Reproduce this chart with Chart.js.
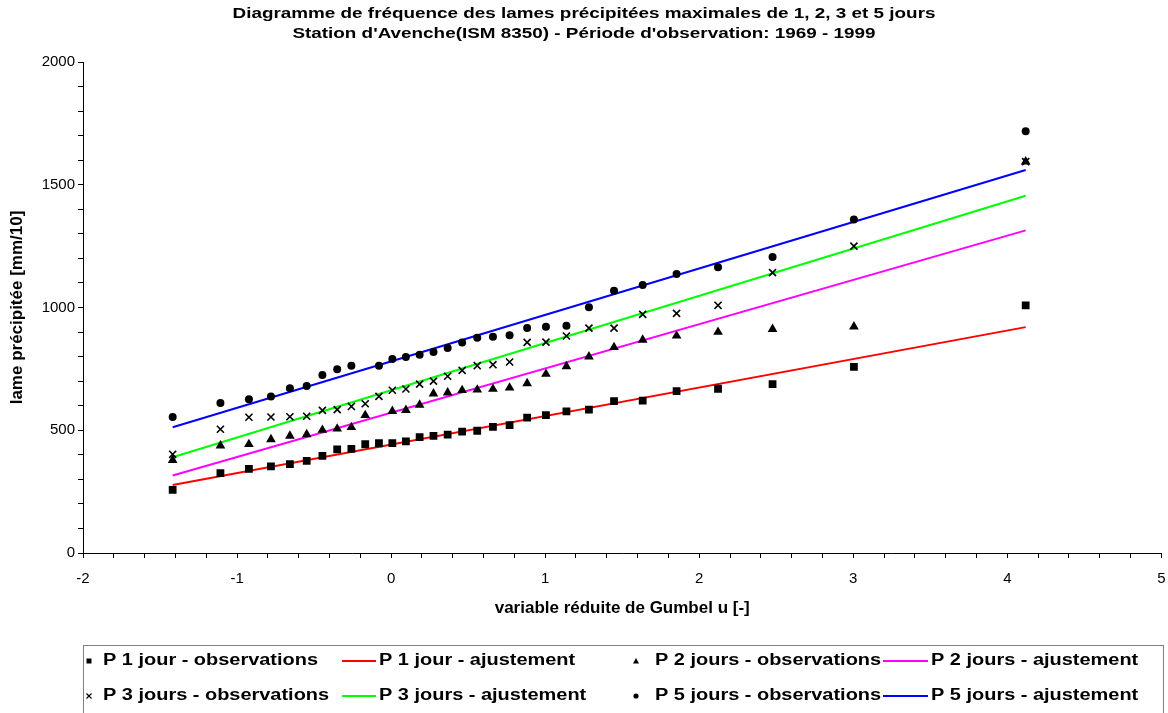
<!DOCTYPE html>
<html>
<head>
<meta charset="utf-8">
<script src="https://cdn.jsdelivr.net/npm/chart.js"></script>
<style>
  html, body { margin: 0; padding: 0; background: #fff; }
  #chart { display: block; }
</style>
</head>
<body>
<canvas id="chart" width="1168" height="713"></canvas>
<script>
// Gumbel reduced variable u for each ranked observation
const uValues = [-1.418, -1.108, -0.923, -0.780, -0.657, -0.548, -0.446, -0.350, -0.258, -0.168,
  -0.079, 0.008, 0.096, 0.185, 0.275, 0.367, 0.461, 0.559, 0.661, 0.769,
  0.883, 1.005, 1.138, 1.284, 1.447, 1.633, 1.853, 2.122, 2.476, 3.004, 4.119];

// observed maxima [mm/10], null where no marker is visible
const p1Obs = [257, 325, 343, 353, 362, 375, 396, 422, 424, 443, 447, 448, 455, 472, 477, 482,
  494, 498, 514, 521, 551, 562, 577, 584, 619, 621, 659, 669, 688, 758, 1009];
const p2Obs = [378, 437, 443, 463, 477, 483, 501, 506, 512, 561, null, 578, 582, 603, 649, 653,
  663, 665, 668, 673, 691, 729, 760, 800, 838, 868, 885, 900, 912, 922, 1594];
const p3Obs = [402, 504, 553, 554, 555, 557, 581, 584, 597, 608, 638, 663, 668, 688, 700, 720,
  744, 763, 767, 778, 858, 859, 884, 916, 916, 972, 976, 1009, 1142, 1250, 1594];
const p5Obs = [554, 611, 626, 637, 671, 680, 725, 748, 763, null, 763, 790, 798, 808, 819, 835,
  857, 877, 881, 887, 916, 922, 926, 1001, 1068, 1092, 1136, 1164, 1206, 1358, 1718];

// fitted Gumbel lines, end points
const fitU = [-1.418, 4.119];
const p1Fit = [277, 920];
const p2Fit = [316, 1314];
const p3Fit = [390, 1455];
const p5Fit = [512, 1560];

const xTicks = [-2, -1, 0, 1, 2, 3, 4, 5];
const yTicks = [0, 500, 1000, 1500, 2000];

const titleLines = [
  'Diagramme de fréquence des lames précipitées maximales de 1, 2, 3 et 5 jours',
  "Station d'Avenche(ISM 8350) - Période d'observation: 1969 - 1999"
];

const FONT = "'Liberation Sans', Arial, sans-serif";
Chart.defaults.font.family = FONT;
Chart.defaults.color = '#000';

const toPoints = (xs, ys) => xs.map((x, i) => ({ x, y: ys[i] })).filter(p => p.y !== null);

const obs = (label, ys, style, radius) => ({
  label, data: toPoints(uValues, ys), showLine: false, order: 0,
  pointStyle: style, pointRadius: radius, pointHoverRadius: radius,
  pointBackgroundColor: '#000', pointBorderColor: '#000',
  pointBorderWidth: style === 'crossRot' ? 1.6 : 0
});
const fit = (label, ys, color) => ({
  label, data: toPoints(fitU, ys), showLine: true, order: 1,
  borderColor: color, borderWidth: 2, pointRadius: 0, fill: false
});

const datasets = [
  obs('P 1 jour - observations', p1Obs, 'rect', 5.5),
  fit('P 1 jour - ajustement', p1Fit, '#ff0000'),
  obs('P 2 jours - observations', p2Obs, 'triangle', 5.6),
  fit('P 2 jours - ajustement', p2Fit, '#ff00ff'),
  obs('P 3 jours - observations', p3Obs, 'crossRot', 5),
  fit('P 3 jours - ajustement', p3Fit, '#00ff00'),
  obs('P 5 jours - observations', p5Obs, 'circle', 4),
  fit('P 5 jours - ajustement', p5Fit, '#0000ff')
];

// text drawn wider than the font, like the original
function wideText(ctx, text, x, y, sx, align) {
  ctx.save();
  ctx.translate(x, y);
  ctx.scale(sx, 1);
  ctx.textAlign = align;
  ctx.fillText(text, 0, 0);
  ctx.restore();
}

function legendMarker(ctx, style, x, y) {
  ctx.save();
  ctx.fillStyle = '#000';
  ctx.strokeStyle = '#000';
  ctx.beginPath();
  if (style === 'rect') {
    ctx.fillRect(x - 2.5, y - 2.5, 5, 5);
  } else if (style === 'triangle') {
    ctx.moveTo(x, y - 3); ctx.lineTo(x + 3, y + 2.5); ctx.lineTo(x - 3, y + 2.5);
    ctx.closePath(); ctx.fill();
  } else if (style === 'crossRot') {
    ctx.lineWidth = 1.2;
    ctx.moveTo(x - 2.5, y - 2.5); ctx.lineTo(x + 2.5, y + 2.5);
    ctx.moveTo(x + 2.5, y - 2.5); ctx.lineTo(x - 2.5, y + 2.5);
    ctx.stroke();
  } else {
    ctx.arc(x, y, 2.6, 0, Math.PI * 2); ctx.fill();
  }
  ctx.restore();
}

const decorPlugin = {
  id: 'decor',
  afterDraw(chart) {
    const ctx = chart.ctx;
    ctx.save();
    ctx.fillStyle = '#000';
    ctx.textBaseline = 'middle';

    // title
    ctx.font = 'bold 15px ' + FONT;
    const tsx = 703 / ctx.measureText(titleLines[0]).width;
    wideText(ctx, titleLines[0], 584, 14, tsx, 'center');
    wideText(ctx, titleLines[1], 584, 34, tsx, 'center');

    // legend box
    ctx.strokeStyle = '#7f7f7f';
    ctx.lineWidth = 1;
    ctx.strokeRect(83.5, 645.5, 1080, 80);

    ctx.font = 'bold 16px ' + FONT;
    const lsx = 215 / ctx.measureText(datasets[0].label).width;
    const rows = [661, 696];
    const cols = [
      { kind: 'obs', mx: 89, tx: 103 },
      { kind: 'fit', lx: [342, 376], tx: 379 },
      { kind: 'obs', mx: 636, tx: 655 },
      { kind: 'fit', lx: [883, 928], tx: 931 }
    ];
    datasets.forEach((ds, i) => {
      const row = rows[Math.floor(i / 4)];
      const col = cols[i % 4];
      if (col.kind === 'obs') {
        legendMarker(ctx, ds.pointStyle, col.mx, row);
      } else {
        ctx.save();
        ctx.strokeStyle = ds.borderColor;
        ctx.lineWidth = 2;
        ctx.beginPath();
        ctx.moveTo(col.lx[0], row);
        ctx.lineTo(col.lx[1], row);
        ctx.stroke();
        ctx.restore();
      }
      wideText(ctx, ds.label, col.tx, row, lsx, 'left');
    });
    ctx.restore();
  }
};

new Chart(document.getElementById('chart'), {
  type: 'scatter',
  data: { datasets },
  options: {
    responsive: false,
    animation: false,
    layout: { padding: { left: 0, right: 5, top: 62, bottom: 90 } },
    plugins: {
      legend: { display: false },
      title: { display: false },
      tooltip: { enabled: false }
    },
    scales: {
      x: {
        type: 'linear',
        min: xTicks[0],
        max: xTicks[xTicks.length - 1],
        afterFit: s => { s.height = 70; s.paddingLeft = 0; s.paddingRight = 0; },
        border: { color: '#000', width: 1 },
        grid: { drawOnChartArea: false, drawTicks: true, tickLength: 5, color: '#000' },
        ticks: {
          stepSize: 0.2,
          autoSkip: false,
          maxRotation: 0,
          padding: 12,
          font: { size: 15 },
          callback: v => {
            const r = Math.round(v * 10) / 10;
            return xTicks.includes(r) ? String(r) : '';
          }
        },
        title: {
          display: true,
          text: 'variable réduite de Gumbel u [-]',
          font: { size: 17, weight: 'bold' },
          padding: { top: 4, bottom: 4 }
        }
      },
      y: {
        min: yTicks[0],
        max: yTicks[yTicks.length - 1],
        afterFit: s => { s.width = 83; s.paddingTop = 0; s.paddingBottom = 0; },
        border: { color: '#000', width: 1 },
        grid: { drawOnChartArea: false, drawTicks: true, tickLength: 5, color: '#000' },
        ticks: {
          stepSize: 100,
          autoSkip: false,
          padding: 3,
          font: { size: 15 },
          callback: v => yTicks.includes(v) ? String(v) : ''
        },
        title: {
          display: true,
          text: 'lame précipitée [mm/10]',
          font: { size: 17, weight: 'bold' },
          padding: { top: 7, bottom: 7 }
        }
      }
    }
  },
  plugins: [decorPlugin]
});
</script>
</body>
</html>
